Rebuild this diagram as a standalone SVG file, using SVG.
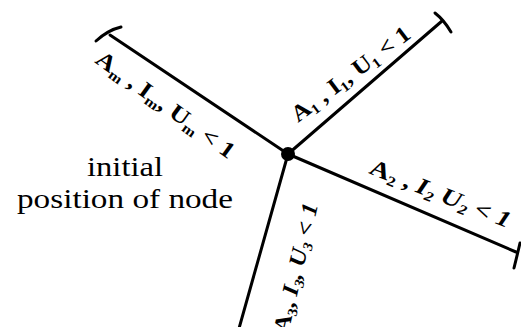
<svg xmlns="http://www.w3.org/2000/svg" width="521" height="327" viewBox="0 0 521 327">
<style>
.ln{stroke:#000;stroke-width:3;fill:none;stroke-linecap:round;stroke-linejoin:round}
.lbl{font-family:'Liberation Serif','Times New Roman',serif;font-weight:bold;font-size:23px;fill:#000}
.sub{font-size:14px}
.it{font-style:italic}
.cap{font-family:'Liberation Serif','Times New Roman',serif;font-size:28px;fill:#000;text-anchor:middle}
</style>
<rect width="521" height="327" fill="#fff"/>
<g id="connectors">
<path class="ln" d="M110 35 L288 154"/>
<path class="ln" d="M288 154 L442 21"/>
<path class="ln" d="M288 154 L516 252"/>
<path class="ln" d="M288 154 L238 332"/>
<path class="ln" d="M96 41 Q108 30 121 27"/>
<path class="ln" d="M435 13 Q444 20 451 32"/>
<path class="ln" d="M520 243 Q517 256 514 268"/>
</g>
<g id="node-center">
<circle cx="288" cy="154" r="7" fill="#000"/>
</g>
<g id="label-m">
<text class="lbl" transform="translate(94,62) rotate(36)" textLength="166" lengthAdjust="spacingAndGlyphs">A<tspan class="sub" dy="4">m</tspan><tspan dy="-4"> , I</tspan><tspan class="sub" dy="4">m</tspan><tspan dy="-4">, U</tspan><tspan class="sub" dy="4">m</tspan><tspan dy="-4"> &lt; 1</tspan></text>
</g>
<g id="label-1">
<text class="lbl" transform="translate(298,123) rotate(-37)" textLength="143" lengthAdjust="spacingAndGlyphs">A<tspan class="sub" dy="4">1</tspan><tspan dy="-4"> , I</tspan><tspan class="sub" dy="4">1</tspan><tspan dy="-4">, U</tspan><tspan class="sub" dy="4">1</tspan><tspan dy="-4"> &lt; 1</tspan></text>
</g>
<g id="label-2">
<text class="lbl" transform="translate(368,173) rotate(21.6)" textLength="150" lengthAdjust="spacingAndGlyphs">A<tspan class="sub" dy="4">2</tspan><tspan dy="-4"> , </tspan><tspan class="it">I</tspan><tspan class="sub it" dy="4">2</tspan><tspan class="it" dy="-4"> U</tspan><tspan class="sub it" dy="4">2</tspan><tspan class="it" dy="-4"> &lt; 1</tspan></text>
</g>
<g id="label-3">
<text class="lbl" transform="translate(318,205) rotate(-77)" text-anchor="end" textLength="132" lengthAdjust="spacingAndGlyphs">A<tspan class="sub" dy="4">3</tspan><tspan dy="-4">, </tspan><tspan class="it">I</tspan><tspan class="sub it" dy="4">3</tspan><tspan class="it" dy="-4">, U</tspan><tspan class="sub it" dy="4">3</tspan><tspan class="it" dy="-4"> &lt; 1</tspan></text>
</g>
<g id="initial-position">
<text class="cap" x="125" y="176" textLength="76" lengthAdjust="spacingAndGlyphs">initial</text>
<text class="cap" x="125" y="208" textLength="216" lengthAdjust="spacingAndGlyphs">position of node</text>
</g>
</svg>
